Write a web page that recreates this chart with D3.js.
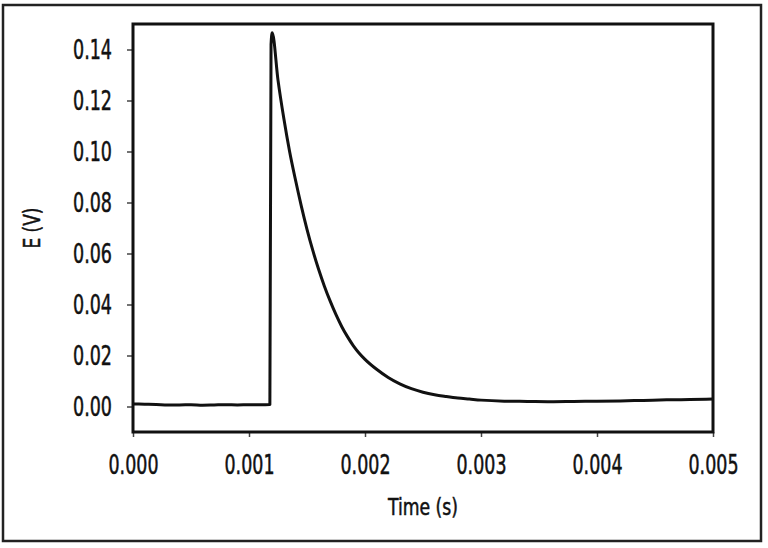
<!DOCTYPE html>
<html>
<head>
<meta charset="utf-8">
<script src="https://cdn.jsdelivr.net/npm/d3@7"></script>
<style>
  body { margin: 0; background: #fff; }
  text { font-family: "DejaVu Sans Condensed", "DejaVu Sans", sans-serif; font-stretch: condensed; fill: #111; stroke: #111; stroke-width: 0.5; }
</style>
</head>
<body>
<div class="mainContainer"></div>
<script>
// time (s) and potential (V)
const times = [
  0.0000, 0.0001, 0.0002, 0.0003, 0.0004, 0.0005, 0.0006, 0.0007, 0.0008, 0.0009,
  0.0010, 0.0011, 0.00118, 0.00119, 0.00120, 0.00125, 0.00130, 0.00135, 0.00140, 0.00145,
  0.00150, 0.00155, 0.00160, 0.00165, 0.00170, 0.00175, 0.00180, 0.00185, 0.00190, 0.00195,
  0.00200, 0.00210, 0.00220, 0.00230, 0.00240, 0.00250, 0.00260, 0.00270, 0.00280, 0.00290,
  0.00300, 0.00320, 0.00340, 0.00360, 0.00380, 0.00400, 0.00420, 0.00440, 0.00460, 0.00480,
  0.00500
];
const volts = [
  0.0010, 0.0009, 0.0008, 0.0006, 0.0006, 0.0007, 0.0005, 0.0006, 0.0007, 0.0006,
  0.0007, 0.0007, 0.0008, 0.1420, 0.1466, 0.1280, 0.1130, 0.1000, 0.0890, 0.0788,
  0.0695, 0.0612, 0.0538, 0.0472, 0.0413, 0.0360, 0.0313, 0.0273, 0.0238, 0.0209,
  0.0185, 0.0146, 0.0114, 0.0089, 0.0070, 0.0056, 0.0046, 0.0039, 0.0033, 0.0029,
  0.0025, 0.0021, 0.0020, 0.0019, 0.0020, 0.0021, 0.0022, 0.0024, 0.0026, 0.0027,
  0.0029
];
const xTicks = [0, 0.001, 0.002, 0.003, 0.004, 0.005];
const yTicks = [0, 0.02, 0.04, 0.06, 0.08, 0.10, 0.12, 0.14];

const data = times.map((t, i) => ({t: t, v: volts[i]}));

const svg = d3.select('.mainContainer')
  .append('svg')
  .attr('width', 768)
  .attr('height', 548);

// outer frame
svg.append('rect')
  .attr('x', 3).attr('y', 5)
  .attr('width', 758).attr('height', 536)
  .attr('fill', 'none')
  .attr('stroke', '#222')
  .attr('stroke-width', 2.5);

const x = d3.scaleLinear().domain([0, 0.005]).range([133, 713]);
const y = d3.scaleLinear().domain([-0.01, 0.15]).range([432, 24]);

const xAxis = d3.axisBottom(x)
  .tickValues(xTicks)
  .tickFormat(d3.format('.3f'))
  .tickSize(5)
  .tickPadding(18);
const yAxis = d3.axisLeft(y)
  .tickValues(yTicks)
  .tickFormat(d3.format('.2f'))
  .tickSize(6)
  .tickPadding(15);

const xAxisGroup = svg.append('g')
  .attr('transform', 'translate(0,432)')
  .call(xAxis);
const yAxisGroup = svg.append('g')
  .attr('transform', 'translate(133,0)')
  .call(yAxis);

[xAxisGroup, yAxisGroup].forEach(g => {
  g.select('.domain').remove();
  g.selectAll('.tick line').attr('stroke', '#444').attr('stroke-width', 1.5);
  g.selectAll('.tick text').attr('font-size', 27).attr('fill', '#111')
    .attr('lengthAdjust', 'spacingAndGlyphs');
});
xAxisGroup.selectAll('.tick text').attr('textLength', 50);
yAxisGroup.selectAll('.tick text').attr('textLength', 39);

// curve
const line = d3.line()
  .x(d => x(d.t))
  .y(d => y(d.v))
  .curve(d3.curveMonotoneX);

svg.append('path')
  .datum(data)
  .attr('d', line)
  .attr('fill', 'none')
  .attr('stroke', '#111')
  .attr('stroke-width', 3)
  .attr('stroke-linejoin', 'round');

// plot frame
svg.append('rect')
  .attr('x', 133).attr('y', 24)
  .attr('width', 580).attr('height', 408)
  .attr('fill', 'none')
  .attr('stroke', '#111')
  .attr('stroke-width', 3);

svg.append('text')
  .attr('x', 423).attr('y', 515)
  .attr('text-anchor', 'middle')
  .attr('font-size', 23)
  .attr('textLength', 70)
  .attr('lengthAdjust', 'spacingAndGlyphs')
  .text('Time (s)');

svg.append('text')
  .attr('transform', 'translate(40,228) rotate(-90)')
  .attr('text-anchor', 'middle')
  .attr('font-size', 23)
  .attr('textLength', 41)
  .attr('lengthAdjust', 'spacingAndGlyphs')
  .text('E (V)');
</script>
</body>
</html>
